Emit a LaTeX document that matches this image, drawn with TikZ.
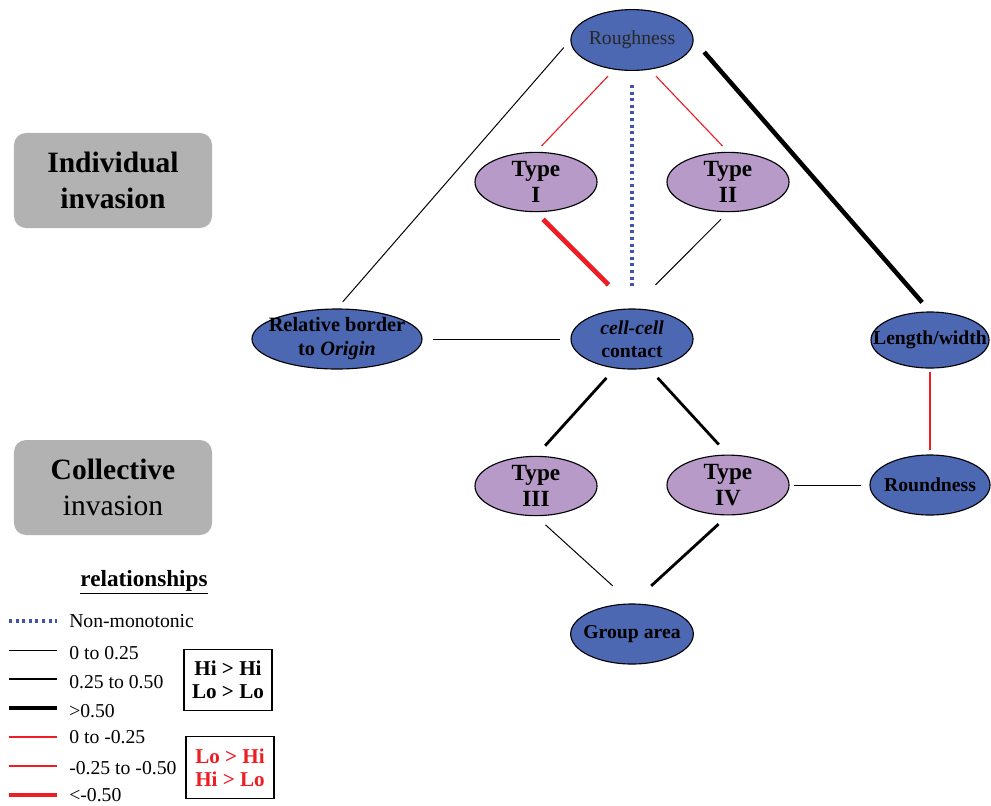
\documentclass[tikz,border=0pt]{standalone}
\usepackage{fontspec}
\setmainfont{Liberation Serif}
\usetikzlibrary{shapes.geometric}

\definecolor{traitblue}{RGB}{76,104,178}
\definecolor{typeviolet}{RGB}{184,154,200}
\definecolor{modegray}{RGB}{178,178,178}
\definecolor{negred}{RGB}{236,30,36}
\definecolor{dotblue}{RGB}{64,84,172}

\tikzset{
	trait/.style={ellipse, draw=black, line width=0.8pt, fill=traitblue, inner sep=0pt,
		minimum width=3.05cm, minimum height=1.5cm, align=center,
		font=\bfseries\fontsize{14}{16.5}\selectfont},
	itype/.style={trait, fill=typeviolet, minimum height=1.45cm,
		font=\bfseries\fontsize{16.5}{19}\selectfont},
	mode/.style={rounded corners=0.3cm, fill=modegray, minimum width=4.95cm,
		minimum height=2.375cm, align=center, font=\fontsize{21}{26}\selectfont},
	keybox/.style={draw=black, line width=0.8pt, minimum width=2.2cm, minimum height=1.53cm,
		align=center, font=\bfseries\fontsize{15}{16.5}\selectfont},
	keytext/.style={anchor=west, inner sep=0pt, font=\fontsize{14}{16}\selectfont},
	plusweak/.style={line width=0.7pt},
	plusmid/.style={line width=2pt},
	plusstrong/.style={line width=3.2pt},
	minusweak/.style={draw=negred, line width=0.8pt},
	minusmid/.style={draw=negred, line width=1.9pt},
	minusstrong/.style={draw=negred, line width=3.4pt},
	nonmono/.style={draw=dotblue, line width=2.3pt, dash pattern=on 2.1pt off 2.6pt},
	trim/.style 2 args={shorten <=#1, shorten >=#2}
}

\begin{document}
\begin{tikzpicture}[x=0.025cm, y=-0.025cm]
	\useasboundingbox (0,0) rectangle (991,805);
	
	%%%%% invasion modes %%%%%
	\node[mode] (indiv) at (113,180.5) {\textbf{Individual}\\\textbf{invasion}};
	\node[mode] (coll) at (113,487.5) {\textbf{Collective}\\invasion};
	
	%%%%% traits %%%%%
	\node[trait, minimum height=1.52cm, font=\fontsize{14}{16}\selectfont, text=black!85] (ro) at (632,40) {Roughness};
	\node[itype] (t1) at (536,182) {Type\\I};
	\node[itype] (t2) at (728,182) {Type\\II};
	\node[trait, minimum width=4.25cm, inner xsep=-0.37cm, font=\bfseries\fontsize{14.5}{17}\selectfont] (rb) at (337,339) {Relative border\\to \textit{Origin}};
	\node[trait] (cc) at (632,339) {\textit{cell-cell}\\contact};
	\node[trait, minimum width=2.95cm, minimum height=1.4cm, inner xsep=-0.38cm] (lw) at (930,340) {Length/width};
	\node[itype] (t3) at (536,486) {Type\\III};
	\node[itype] (t4) at (728,485) {Type\\IV};
	\node[trait, minimum width=3cm, inner xsep=-0.1cm] (rd) at (930,485) {Roundness};
	\node[trait, inner xsep=-0.13cm] (ga) at (632,634) {Group area};
	
	%%%%% relationships %%%%%
	\draw[plusweak, trim={0.25cm}{0.22cm}] (ro.west) -- (rb.north);
	\draw[minusweak, trim={0.22cm}{0.2cm}] (ro.239) -- (t1.north);
	\draw[minusweak, trim={0.22cm}{0.2cm}] (ro.301) -- (t2.north);
	\draw[nonmono, trim={0.35cm}{0.48cm}] (ro.south) -- (cc.north);
	\draw[plusstrong, trim={0.4cm}{0.3cm}] (ro.east) -- (lw.north);
	
	\draw[minusstrong, trim={0.25cm}{0.83cm}] (t1.south) -- (cc.north);
	\draw[plusweak, trim={0.25cm}{0.83cm}] (t2.south) -- (cc.north);
	\draw[plusweak, trim={0.25cm}{0.25cm}] (rb.east) -- (cc.west);
	\draw[minusweak, trim={0.08cm}{0.1cm}] (lw.south) -- (rd.north);
	
	\draw[plusmid, trim={0.32cm}{0.34cm}] (cc.240) -- (t3.north);
	\draw[plusmid, trim={0.32cm}{0.34cm}] (cc.300) -- (t4.north);
	\draw[plusweak, trim={0.1cm}{0.22cm}] (t4.east) -- (rd.west);
	\draw[plusweak, trim={0.32cm}{0.65cm}] (t3.south) -- (ga.north);
	\draw[plusmid, trim={0.32cm}{0.65cm}] (t4.south) -- (ga.north);
	
	%%%%% legend %%%%%
	\node[font=\bfseries\fontsize{16.5}{18}\selectfont] (keytitle) at (144,582) {\underline{relationships}};
	
	\draw[nonmono] (9,621) -- (57,621);
	\node[keytext] (knm) at (69,621) {Non-monotonic};
	\draw[plusweak] (9,650) -- (57,650);
	\node[keytext] (kp1) at (69,653) {0 to 0.25};
	\draw[plusmid] (9,679) -- (57,679);
	\node[keytext] (kp2) at (69,682) {0.25 to 0.50};
	\draw[plusstrong] (9,708) -- (57,708);
	\node[keytext] (kp3) at (69,711) {>0.50};
	\draw[minusweak] (9,737) -- (57,737);
	\node[keytext] (km1) at (69,737) {0 to -0.25};
	\draw[minusmid] (9,766) -- (57,766);
	\node[keytext] (km2) at (69,768) {-0.25 to -0.50};
	\draw[minusstrong] (9,795) -- (57,795);
	\node[keytext] (km3) at (69,795) {<-0.50};
	
	\node[keybox] (same) at (228,680) {Hi > Hi\\Lo > Lo};
	\node[keybox, text=negred] (swap) at (230,767.5) {Lo > Hi\\Hi > Lo};
\end{tikzpicture}
\end{document}
